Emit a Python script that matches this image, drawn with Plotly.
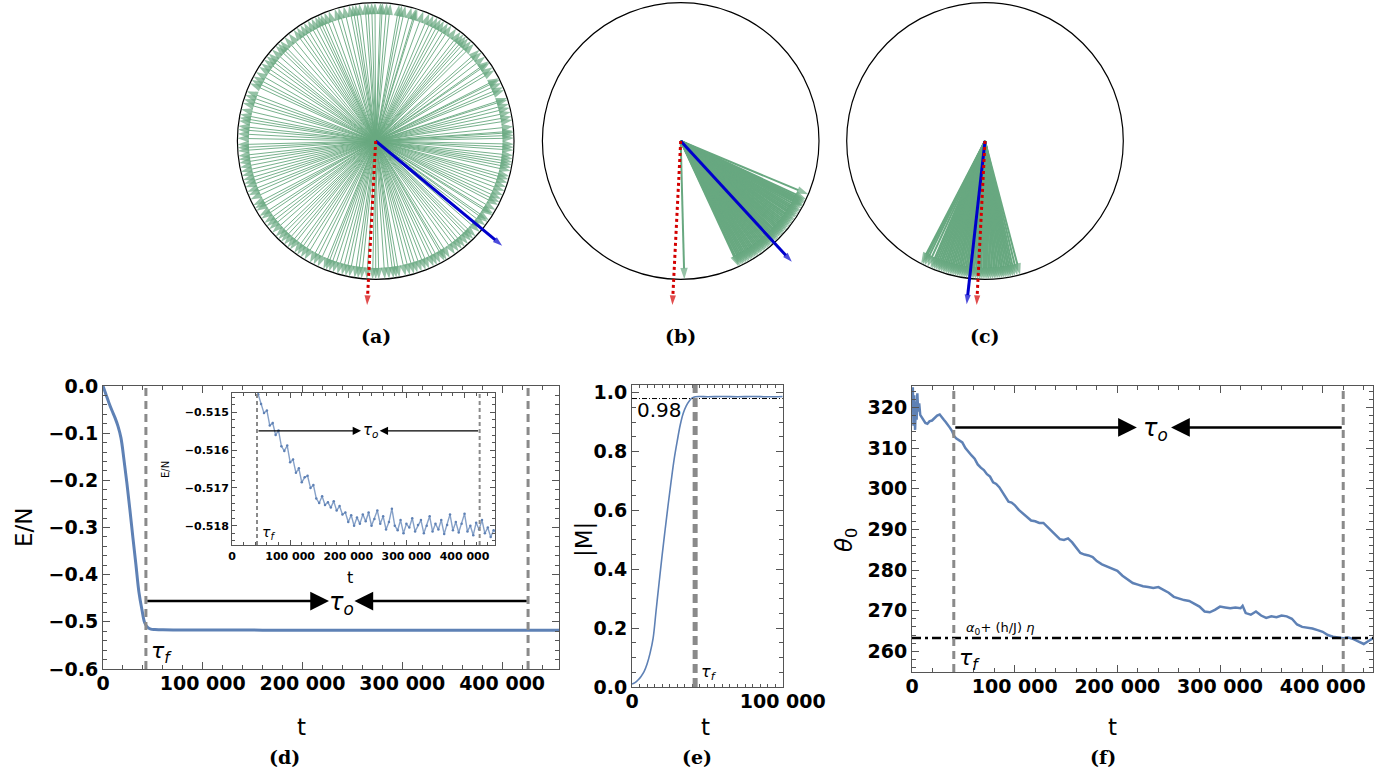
import math
import plotly.graph_objects as go

W, H = 1396, 772

# ---------------- data ----------------
# spin angles (degrees) for the three snapshots
spins_a = [1.2, 3.5, 4.1, 6.0, 8.7, 10.2, 13.9, 17.4, 18.1, 21.6, 22.9, 26.3, 27.0, 30.8, 34.5, 35.2,
           39.9, 41.3, 44.7, 46.3, 49.2, 50.6, 52.1, 56.8, 60.4, 61.9, 63.5, 65.3, 69.8, 72.5, 73.1,
           77.6, 80.2, 83.9, 85.4, 87.2, 88.0, 91.7, 93.3, 94.5, 96.8, 98.4, 101.1, 105.6, 107.2,
           109.9, 113.5, 116.0, 117.7, 119.4, 121.3, 124.8, 126.4, 129.0, 133.7, 135.1, 138.6,
           140.8, 142.2, 143.9, 147.5, 150.1, 153.8, 155.3, 158.9, 162.4, 164.0, 166.7, 168.9,
           170.3, 173.8, 175.2, 178.9, 181.5, 184.1, 186.2, 187.7, 189.2, 192.8, 196.4, 198.0,
           201.6, 203.1, 205.0, 207.7, 210.3, 212.9, 216.4, 218.0, 221.5, 223.7, 225.2, 226.8,
           230.3, 233.9, 235.4, 239.0, 241.6, 243.3, 245.2, 247.8, 250.3, 253.9, 255.8, 257.4,
           259.0, 262.6, 264.1, 268.7, 271.3, 273.8, 275.6, 277.4, 279.9, 282.5, 286.1, 287.6,
           291.2, 292.7, 294.8, 296.3, 299.9, 302.4, 305.0, 308.6, 310.1, 311.9, 313.7, 316.3,
           318.8, 322.4, 325.0, 327.5, 328.3, 330.1, 333.7, 335.2, 338.8, 342.4, 343.9, 345.2,
           347.5, 350.1, 352.6, 354.0, 356.2, 358.7, 2.4, 15.5, 32.2, 48.0, 58.5, 75.0, 90.3,
           103.4, 111.8, 131.3, 145.9, 160.6, 177.0, 194.6, 214.2, 228.5, 237.2, 252.0, 266.3,
           284.3, 297.9, 306.9, 320.5, 336.9, 348.9, 12.1, 24.8, 37.6, 54.4, 67.2, 79.1, 99.7,
           114.8, 123.0, 136.4, 152.2, 171.6, 182.8, 191.0, 199.5, 209.1, 219.6, 231.7, 248.9,
           261.2, 270.0, 278.6, 289.4, 300.8, 314.9, 324.1, 332.4, 340.6, 351.3, 357.4]
spins_b = [-88.5, -22.7, -24.9, -25.6, -26.2, -26.8, -27.5, -27.9, -28.3, -29.1, -30.0, -30.7,
           -31.4, -32.2, -33.0, -33.6, -34.5, -35.1, -35.9, -36.6, -37.4, -38.1, -38.9, -39.6,
           -40.3, -41.1, -41.8, -42.5, -43.3, -44.0, -44.8, -45.5, -46.2, -47.0, -47.7, -48.4,
           -49.2, -49.9, -50.6, -51.4, -52.1, -52.8, -53.6, -54.3, -55.0, -55.8, -56.5, -57.2,
           -58.0, -58.7, -59.4, -60.2, -60.9, -61.6, -62.4, -63.1, -63.8, -64.6, -65.2]
spins_c = [-117.5, -116.8, -115.9, -114.6, -113.2, -112.5, -111.7, -110.9, -110.1, -109.4,
           -108.6, -107.8, -107.1, -106.3, -105.5, -104.7, -104.0, -103.2, -102.4, -101.6,
           -100.9, -100.1, -99.3, -98.5, -97.8, -97.0, -96.2, -95.4, -94.7, -93.9, -93.1,
           -92.3, -91.6, -90.8, -90.0, -89.2, -88.5, -87.7, -86.9, -86.1, -85.4, -84.6,
           -83.8, -83.0, -82.3, -81.5, -80.7, -79.9, -79.2, -78.4, -77.6, -76.5, -75.3]
mag_dir = [-39.6, -47.4, -96.4]     # blue arrow (magnetisation) direction
field_dir = [-93.0, -92.9, -92.9]   # red dotted arrow (field) direction
arrow_len = 1.187
panel_names_top = ["(a)", "(b)", "(c)"]

# (d) energy per spin
d_t = [0, 3000, 6000, 9000, 12000, 15000, 18000, 21000, 24000, 27000, 30000, 33000, 36000,
       39000, 42000, 45000, 48000, 52000, 60000, 80000, 120000, 160000, 200000, 250000,
       300000, 350000, 400000, 457000]
d_E = [0.0, -0.018, -0.036, -0.052, -0.067, -0.085, -0.110, -0.156, -0.207, -0.263, -0.322,
       -0.379, -0.437, -0.474, -0.503, -0.512, -0.5155, -0.5162, -0.5168, -0.5172, -0.5175,
       -0.5176, -0.5178, -0.5179, -0.5180, -0.5180, -0.5181, -0.5181]
tau_f = 43000
tau_o = 426000
inset_t = list(range(45000, 455001, 5000))
inset_E = [-0.51452, -0.51478, -0.51502, -0.51495, -0.51535, -0.51528, -0.51560, -0.51548,
           -0.51590, -0.51602, -0.51588, -0.51632, -0.51625, -0.51660, -0.51648, -0.51685,
           -0.51672, -0.51668, -0.51700, -0.51692, -0.51728, -0.51740, -0.51722, -0.51745,
           -0.51738, -0.51752, -0.51735, -0.51760, -0.51748, -0.51770, -0.51765, -0.51790,
           -0.51772, -0.51800, -0.51778, -0.51795, -0.51770, -0.51788, -0.51765, -0.51800,
           -0.51782, -0.51760, -0.51795, -0.51775, -0.51810, -0.51790, -0.51755, -0.51800,
           -0.51812, -0.51785, -0.51820, -0.51795, -0.51805, -0.51780, -0.51815, -0.51798,
           -0.51785, -0.51820, -0.51800, -0.51775, -0.51815, -0.51795, -0.51810, -0.51785,
           -0.51822, -0.51798, -0.51770, -0.51812, -0.51790, -0.51818, -0.51795, -0.51768,
           -0.51815, -0.51800, -0.51825, -0.51792, -0.51810, -0.51785, -0.51820, -0.51805,
           -0.51830, -0.51812, -0.51820]

# (e) magnetisation
e_t = [0, 2000, 4000, 6000, 8000, 10000, 12000, 14000, 16000, 18000, 20000, 22000, 24000,
       26000, 28000, 30000, 32000, 34000, 36000, 38000, 40000, 42000, 45000, 50000, 60000,
       70000, 80000, 90000, 100000]
e_M = [0.010, 0.015, 0.024, 0.036, 0.052, 0.078, 0.115, 0.165, 0.260, 0.355, 0.448, 0.535,
       0.620, 0.700, 0.775, 0.835, 0.890, 0.930, 0.955, 0.972, 0.982, 0.986, 0.987, 0.986,
       0.987, 0.986, 0.987, 0.986, 0.987]
e_tau_f = 41900
M_level = 0.98

# (f) angle theta_0
f_t = [0, 800, 1500, 2200, 3000, 3800, 4500, 5200, 6000, 7000, 8000, 9500, 11000, 13000, 15000,
       17000, 19500, 22000, 24500, 27000, 29000, 31000, 33000, 35000, 37000, 39000, 41000,
       43000, 46000, 49000, 52000, 55000, 58000, 61000, 64000, 67000, 70000, 73000, 76000,
       79000, 82000, 85000, 88000, 91000, 94000, 97000, 100000, 104000, 108000, 112000,
       116000, 120000, 124000, 128000, 132000, 136000, 140000, 144000, 148000, 152000,
       156000, 160000, 164000, 168000, 172000, 176000, 180000, 185000, 190000, 195000,
       200000, 205000, 210000, 215000, 220000, 225000, 230000, 235000, 240000, 245000,
       250000, 255000, 260000, 265000, 270000, 275000, 280000, 285000, 290000, 295000,
       300000, 305000, 310000, 315000, 320000, 322000, 325000, 330000, 335000, 340000,
       345000, 350000, 355000, 360000, 365000, 370000, 375000, 380000, 385000, 390000,
       395000, 400000, 405000, 410000, 415000, 420000, 425000, 430000, 435000, 440000,
       445000, 449000]
f_theta = [321, 325, 315.5, 323, 314.5, 321.5, 317, 323.5, 319, 321, 318.2, 317.6, 316.8, 316.2,
           316.0, 316.6, 316.8, 317.4, 318.0, 318.3, 317.5, 317.0, 316.4, 315.8, 315.0, 314.2,
           313.0, 312.4, 312.0, 311.4, 310.0, 309.0, 308.2, 307.4, 306.0, 305.2, 304.6, 303.6,
           303.0, 301.6, 301.2, 300.4, 299.2, 298.0, 296.8, 296.6, 296.0, 294.8, 294.0, 293.2,
           292.2, 292.0, 291.6, 291.6, 290.6, 289.6, 288.6, 287.6, 287.4, 287.8, 286.8, 285.4,
           284.2, 283.8, 283.6, 283.2, 282.2, 281.4, 280.8, 280.4, 279.8, 278.6, 277.6, 276.8,
           276.4, 276.0, 275.8, 275.6, 275.8, 275.2, 274.4, 273.4, 273.0, 272.6, 272.4, 271.8,
           271.0, 269.8, 269.6, 270.2, 271.0, 270.8, 270.6, 270.8, 270.6, 271.2, 269.4, 269.0,
           269.8, 268.8, 268.2, 268.6, 268.4, 268.8, 268.6, 268.0, 266.6, 266.0, 265.8, 265.6,
           265.2, 264.8, 264.0, 263.6, 263.4, 263.2, 263.4, 263.0, 262.4, 261.8, 262.6, 263.2]
f_tau_f = 40700
f_tau_o = 420000
theta_level = 263.3

x_ticks = [0, 100000, 200000, 300000, 400000]
x_ticktext = ["0", "100 000", "200 000", "300 000", "400 000"]

# ---------------- styles ----------------
BLUE = "#5E81B5"
GREEN = "rgb(104,168,128)"
GRAY = "#8a8a8a"
FRAME = "#555555"
TF = dict(family="DejaVu Sans", size=19, color="black", weight="bold")


def dom_x(x0, x1):
    return [x0 / W, x1 / W]


def dom_y(top, bottom):
    return [1 - bottom / H, 1 - top / H]


fig = go.Figure()
layout = dict(width=W, height=H,
              margin=dict(l=0, r=0, t=0, b=0, pad=0, autoexpand=False),
              paper_bgcolor="white", plot_bgcolor="white", showlegend=False)
shapes = []
annotations = []


def ptext(x, y, text, font, angle=0):
    """text centred at pixel position (x, y) of the page"""
    return dict(xref="paper", yref="paper", x=x / W, y=1 - y / H, text=text,
                showarrow=False, textangle=angle, font=font,
                xanchor="center", yanchor="middle")


# ---------------- top row: spin snapshots ----------------
R_PX = 138.3
centers = [375.7, 680.7, 985.0]
CY = 141.0
HALF = 150.0
line_w = [1.0, 2.0, 2.0]
line_col = ["rgba(104,168,128,0.9)", GREEN, GREEN]
PANEL_FONT = dict(family="DejaVu Serif", size=19, color="black")
for i, (spins, cx) in enumerate(zip([spins_a, spins_b, spins_c], centers)):
    n = i + 1
    xa, ya = "x%d" % n, "y%d" % n
    layout["xaxis%d" % n] = dict(domain=dom_x(cx - HALF, cx + HALF),
                                 range=[-HALF / R_PX, HALF / R_PX], visible=False,
                                 anchor=ya, fixedrange=True)
    layout["yaxis%d" % n] = dict(domain=dom_y(0, 320),
                                 range=[-(320 - CY) / R_PX, CY / R_PX], visible=False,
                                 anchor=xa, fixedrange=True)
    shapes.append(dict(type="circle", xref=xa, yref=ya, x0=-1, y0=-1, x1=1, y1=1,
                       line=dict(color="black", width=1.2), layer="below"))
    xs, ys, sz = [], [], []
    for a in spins:
        r = math.radians(a)
        xs += [0, math.cos(r), None]
        ys += [0, math.sin(r), None]
        sz += [0, 12, 0]
    fig.add_trace(go.Scatter(x=xs, y=ys, xaxis=xa, yaxis=ya, mode="lines+markers",
                             line=dict(color=line_col[i], width=line_w[i]),
                             marker=dict(symbol="arrow", size=sz, angleref="previous",
                                         color=GREEN, line=dict(width=0)),
                             hoverinfo="skip"))
    for ang, col, dash in [(mag_dir[i], "#0000cc", "solid"), (field_dir[i], "#d40000", "dot")]:
        r = math.radians(ang)
        fig.add_trace(go.Scatter(x=[0, arrow_len * math.cos(r)], y=[0, arrow_len * math.sin(r)],
                                 xaxis=xa, yaxis=ya, mode="lines+markers",
                                 line=dict(color=col, width=3, dash=dash),
                                 marker=dict(symbol="arrow", size=[0, 10], angleref="previous",
                                             color=col, line=dict(width=0)),
                                 hoverinfo="skip"))
    annotations.append(ptext(cx, 336, "<b>%s</b>" % panel_names_top[i], PANEL_FONT))


def frame_axis(**kw):
    base = dict(showline=True, linecolor=FRAME, linewidth=1, mirror="ticks",
                ticks="inside", ticklen=7, tickcolor=FRAME, tickwidth=1,
                showgrid=False, zeroline=False, tickfont=TF, fixedrange=True)
    base.update(kw)
    return base


# ---------------- (d) ----------------
layout["xaxis4"] = frame_axis(domain=dom_x(103, 559), range=[0, 457000], anchor="y4",
                              tickmode="array", tickvals=x_ticks, ticktext=x_ticktext,
                              ticklabelstandoff=-3,
                              minor=dict(ticks="inside", ticklen=4, tickcolor=FRAME,
                                         tickvals=list(range(0, 457000, 20000))))
layout["yaxis4"] = frame_axis(domain=dom_y(386, 669), range=[-0.6, 0.0], anchor="x4",
                              tickmode="array", tickvals=[0, -0.1, -0.2, -0.3, -0.4, -0.5, -0.6],
                              ticktext=["0.0", "−0.1", "−0.2", "−0.3", "−0.4", "−0.5", "−0.6"],
                              minor=dict(ticks="inside", ticklen=4, tickcolor=FRAME,
                                         tickvals=[-0.02 * k for k in range(31)]))
fig.add_trace(go.Scatter(x=d_t, y=d_E, xaxis="x4", yaxis="y4", mode="lines",
                         line=dict(color=BLUE, width=3, shape="spline"), hoverinfo="skip"))
for xv in [tau_f, tau_o]:
    shapes.append(dict(type="line", xref="x4", yref="y4 domain", x0=xv, x1=xv, y0=0, y1=1,
                       line=dict(color=GRAY, width=3, dash="8px,5px")))
arrow_y_d = -0.456
annotations += [
    dict(xref="x4", yref="y4", x=226500, y=arrow_y_d, ax=tau_f, ay=arrow_y_d, axref="x4",
         ayref="y4", text="", showarrow=True, arrowhead=2, arrowsize=1.5, arrowwidth=2.5,
         arrowcolor="black"),
    dict(xref="x4", yref="y4", x=252000, y=arrow_y_d, ax=tau_o, ay=arrow_y_d, axref="x4",
         ayref="y4", text="", showarrow=True, arrowhead=2, arrowsize=1.5, arrowwidth=2.5,
         arrowcolor="black"),
    dict(xref="x4", yref="y4", x=239500, y=arrow_y_d, text="<i>τ</i><sub><i>o</i></sub>",
         showarrow=False, font=dict(family="DejaVu Sans", size=24, color="black"), yshift=-2),
    dict(xref="x4", yref="y4", x=tau_f, y=-0.566, xanchor="left", xshift=3,
         text="<i>τ</i><sub><i>f</i></sub>", showarrow=False,
         font=dict(family="DejaVu Sans", size=22, color="black")),
]

# inset of (d)
TFS = dict(family="DejaVu Sans", size=11, color="black", weight="bold")
layout["xaxis5"] = frame_axis(domain=dom_x(232, 495), range=[0, 452400], anchor="y5",
                              tickmode="array", tickvals=x_ticks, ticktext=x_ticktext,
                              tickfont=TFS, ticklen=5, ticklabelstandoff=1,
                              minor=dict(ticks="inside", ticklen=3, tickcolor=FRAME,
                                         tickvals=list(range(0, 452400, 20000))))
layout["yaxis5"] = frame_axis(domain=dom_y(392.7, 545), range=[-0.51851, -0.51448],
                              anchor="x5", tickmode="array",
                              tickvals=[-0.515, -0.516, -0.517, -0.518],
                              ticktext=["−0.515", "−0.516", "−0.517", "−0.518"],
                              tickfont=TFS, ticklen=5,
                              minor=dict(ticks="inside", ticklen=3, tickcolor=FRAME,
                                         tickvals=[-0.5144 - 0.0002 * k for k in range(22)]))
fig.add_trace(go.Scatter(x=inset_t, y=inset_E, xaxis="x5", yaxis="y5", mode="lines+markers",
                         line=dict(color="rgba(94,129,181,0.75)", width=1.4),
                         marker=dict(color=BLUE, size=2.5), hoverinfo="skip",
                         cliponaxis=True))
for xv in [tau_f, tau_o]:
    shapes.append(dict(type="line", xref="x5", yref="y5 domain", x0=xv, x1=xv, y0=0, y1=1,
                       line=dict(color=GRAY, width=2, dash="4px,3px")))
arrow_y_i = -0.51549
annotations += [
    dict(xref="x5", yref="y5", x=222000, y=arrow_y_i, ax=tau_f, ay=arrow_y_i, axref="x5",
         ayref="y5", text="", showarrow=True, arrowhead=2, arrowsize=1.2, arrowwidth=1.4,
         arrowcolor="black"),
    dict(xref="x5", yref="y5", x=254000, y=arrow_y_i, ax=tau_o, ay=arrow_y_i, axref="x5",
         ayref="y5", text="", showarrow=True, arrowhead=2, arrowsize=1.2, arrowwidth=1.4,
         arrowcolor="black"),
    dict(xref="x5", yref="y5", x=238000, y=arrow_y_i, text="<i>τ</i><sub><i>o</i></sub>",
         showarrow=False, font=dict(family="DejaVu Sans", size=15, color="black")),
    dict(xref="x5", yref="y5", x=tau_f, y=-0.51819, xanchor="left", xshift=3,
         text="<i>τ</i><sub><i>f</i></sub>", showarrow=False,
         font=dict(family="DejaVu Sans", size=14, color="black")),
    ptext(350, 577, "t", dict(family="DejaVu Sans", size=16, color="black")),
    ptext(165, 470, "E/N", dict(family="DejaVu Sans", size=10, color="black"), -90),
]

# ---------------- (e) ----------------
layout["xaxis6"] = frame_axis(domain=dom_x(632, 782.7), range=[0, 100000], anchor="y6",
                              tickmode="array", tickvals=[0, 20000, 40000, 60000, 80000, 100000],
                              ticktext=["0", "", "", "", "", "100 000"], ticklabelstandoff=-3,
                              ticklen=5,
                              minor=dict(ticks="inside", ticklen=3, tickcolor=FRAME,
                                         tickvals=list(range(0, 100001, 5000))))
layout["yaxis6"] = frame_axis(domain=dom_y(385, 687), range=[0, 1.026], anchor="x6",
                              tickmode="array", tickvals=[0, 0.2, 0.4, 0.6, 0.8, 1.0],
                              ticktext=["0.0", "0.2", "0.4", "0.6", "0.8", "1.0"],
                              minor=dict(ticks="inside", ticklen=4, tickcolor=FRAME,
                                         tickvals=[0.05 * k for k in range(21)]))
fig.add_trace(go.Scatter(x=e_t, y=e_M, xaxis="x6", yaxis="y6", mode="lines",
                         line=dict(color=BLUE, width=1.6, shape="spline"), hoverinfo="skip"))
shapes.append(dict(type="line", xref="x6 domain", yref="y6", x0=0, x1=1, y0=M_level,
                   y1=M_level, line=dict(color="black", width=1, dash="5px,2px,1px,2px")))
shapes.append(dict(type="line", xref="x6", yref="y6 domain", x0=e_tau_f, x1=e_tau_f, y0=0,
                   y1=1, line=dict(color=GRAY, width=5, dash="9px,5px")))
annotations += [
    dict(xref="x6", yref="y6", x=2000, y=0.941, xanchor="left", text="%.2f" % M_level,
         showarrow=False, font=dict(family="DejaVu Sans", size=20, color="black")),
    dict(xref="x6", yref="y6", x=e_tau_f, y=0.05, xanchor="left", xshift=4,
         text="<i>τ</i><sub><i>f</i></sub>", showarrow=False,
         font=dict(family="DejaVu Sans", size=16, color="black")),
]

# ---------------- (f) ----------------
layout["xaxis7"] = frame_axis(domain=dom_x(912, 1373), range=[0, 449000], anchor="y7",
                              tickmode="array", tickvals=x_ticks, ticktext=x_ticktext,
                              ticklabelstandoff=-3,
                              minor=dict(ticks="inside", ticklen=4, tickcolor=FRAME,
                                         tickvals=list(range(0, 449000, 20000))))
layout["yaxis7"] = frame_axis(domain=dom_y(386, 672), range=[254.9, 325.3], anchor="x7",
                              tickmode="array", tickvals=[260, 270, 280, 290, 300, 310, 320],
                              ticktext=["260", "270", "280", "290", "300", "310", "320"],
                              minor=dict(ticks="inside", ticklen=4, tickcolor=FRAME,
                                         tickvals=list(range(256, 326, 2))))
fig.add_trace(go.Scatter(x=f_t, y=f_theta, xaxis="x7", yaxis="y7", mode="lines",
                         line=dict(color=BLUE, width=2.5), hoverinfo="skip"))
shapes.append(dict(type="line", xref="x7 domain", yref="y7", x0=0, x1=1, y0=theta_level,
                   y1=theta_level, line=dict(color="black", width=2.5, dash="9px,4px,3px,4px")))
for xv in [f_tau_f, f_tau_o]:
    shapes.append(dict(type="line", xref="x7", yref="y7 domain", x0=xv, x1=xv, y0=0, y1=1,
                       line=dict(color=GRAY, width=3, dash="8px,5px")))
arrow_y_f = 315.1
annotations += [
    dict(xref="x7", yref="y7", x=219000, y=arrow_y_f, ax=f_tau_f, ay=arrow_y_f, axref="x7",
         ayref="y7", text="", showarrow=True, arrowhead=2, arrowsize=1.5, arrowwidth=2.5,
         arrowcolor="black"),
    dict(xref="x7", yref="y7", x=252300, y=arrow_y_f, ax=f_tau_o, ay=arrow_y_f, axref="x7",
         ayref="y7", text="", showarrow=True, arrowhead=2, arrowsize=1.5, arrowwidth=2.5,
         arrowcolor="black"),
    dict(xref="x7", yref="y7", x=236700, y=arrow_y_f, text="<i>τ</i><sub><i>o</i></sub>",
         showarrow=False, font=dict(family="DejaVu Sans", size=24, color="black"), yshift=-2),
    dict(xref="x7", yref="y7", x=f_tau_f, y=257.9, xanchor="left", xshift=3,
         text="<i>τ</i><sub><i>f</i></sub>", showarrow=False,
         font=dict(family="DejaVu Sans", size=22, color="black")),
    dict(xref="x7", yref="y7", x=f_tau_f, y=265.6, xanchor="left", xshift=10,
         text="<i>α</i><sub>0</sub>+ (h/J) <i>η</i>", showarrow=False,
         font=dict(family="DejaVu Sans", size=13, color="black")),
]

# ---------------- axis titles & panel labels ----------------
AT = dict(family="DejaVu Sans", size=23, color="black")
for x, y, txt, ang in [(301, 727, "t", 0), (705, 727, "t", 0), (1112, 727, "t", 0),
                       (24, 527, "E/N", -90), (584, 540, "|M|", -90),
                       (846, 540, "<i>θ</i><sub>0</sub>", -90)]:
    annotations.append(ptext(x, y, txt, AT, ang))
for x, txt in [(284, "(d)"), (697, "(e)"), (1103, "(f)")]:
    annotations.append(ptext(x, 757, "<b>%s</b>" % txt, PANEL_FONT))

layout["shapes"] = shapes
layout["annotations"] = annotations
fig.update_layout(**layout)
fig.write_html("out.html", config={"displayModeBar": False},
               post_script="document.body.style.margin='0';"
                           "document.body.style.overflow='hidden';")
